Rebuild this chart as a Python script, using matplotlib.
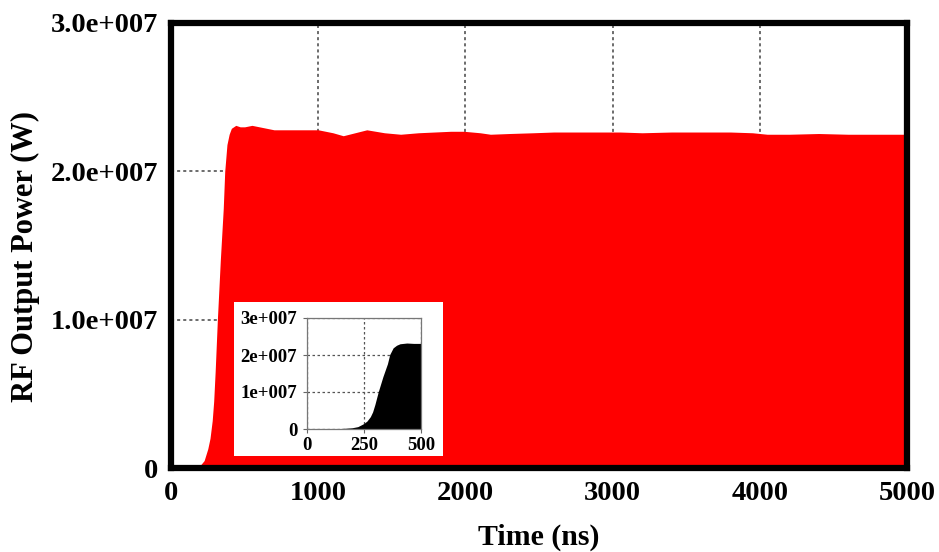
import matplotlib
matplotlib.use('Agg')
import matplotlib.pyplot as plt
from matplotlib.patches import Rectangle
import numpy as np

# envelope of the RF output power (time in ns, power in W)
time_ns = [0, 150, 180, 200, 225, 250, 265, 280, 290, 300, 315, 335, 355, 365,
           380, 395, 410, 440, 470, 500, 550, 600, 700, 800, 900, 1000, 1100,
           1170, 1250, 1330, 1450, 1560, 1680, 1790, 1900, 1990, 2100, 2170,
           2300, 2460, 2600, 2740, 2900, 3050, 3200, 3400, 3600, 3800, 3950,
           4050, 4200, 4400, 4600, 4800, 4990]
power_1e7 = [0.0, 0.0, 0.01, 0.02, 0.05, 0.13, 0.20, 0.32, 0.45, 0.65, 1.00,
             1.40, 1.75, 2.00, 2.18, 2.25, 2.29, 2.31, 2.30, 2.30, 2.31, 2.30,
             2.28, 2.28, 2.28, 2.28, 2.26, 2.24, 2.26, 2.28, 2.26, 2.25, 2.26,
             2.265, 2.27, 2.27, 2.26, 2.25, 2.255, 2.26, 2.265, 2.265, 2.265,
             2.265, 2.26, 2.265, 2.265, 2.265, 2.26, 2.25, 2.25, 2.255, 2.25,
             2.25, 2.25]

main_xticks = [0, 1000, 2000, 3000, 4000, 5000]
main_yticks = [0, 1e7, 2e7, 3e7]
main_ylabels = ['0', '1.0e+007', '2.0e+007', '3.0e+007']
inset_xticks = [0, 250, 500]
inset_yticks = [0, 1e7, 2e7, 3e7]
inset_ylabels = ['0', '1e+007', '2e+007', '3e+007']

t = np.array(time_ns)
p = np.array(power_1e7) * 1e7

plt.rcParams['font.family'] = ['Liberation Serif', 'DejaVu Serif']
plt.rcParams['font.weight'] = 'bold'

W, H = 939, 552
fig = plt.figure(figsize=(W / 100, H / 100), dpi=100)

ax = fig.add_axes([171 / W, 1 - 468 / H, 736 / W, 445 / H])
ax.fill_between(t, 0, p, color='#ff0000', lw=0, zorder=2)
ax.set_xlim(0, 5000)
ax.set_ylim(0, 3e7)
ax.set_xticks(main_xticks)
ax.set_xticklabels([str(v) for v in main_xticks])
ax.set_yticks(main_yticks)
ax.set_yticklabels(main_ylabels)
ax.tick_params(length=0, labelsize=20.5)
ax.tick_params(axis='y', pad=9)
ax.tick_params(axis='x', pad=9)
ax.grid(True, color='#444444', linestyle=(0, (2, 2)), linewidth=1.1, zorder=1)
ax.set_axisbelow(True)
for s in ax.spines.values():
    s.set_linewidth(4.5)
    s.set_color('black')
    s.set_zorder(5)

fig.text(539 / W, 1 - 537 / H, 'Time (ns)', ha='center', va='center',
         fontsize=21.5, fontweight='bold')
fig.text(25 / W, 1 - 257 / H, 'RF Output Power (W)', ha='center', va='center',
         rotation=90, fontsize=22, fontweight='bold')

# white panel behind the inset
fig.add_artist(Rectangle((234 / W, 1 - 456 / H), 209 / W, 154 / H,
                         transform=fig.transFigure, facecolor='white',
                         edgecolor='none', zorder=1))

ins = fig.add_axes([307 / W, 1 - 429 / H, 114 / W, 111 / H], zorder=2)
ins.fill_between(t, 0, p, color='black', lw=0, zorder=2)
ins.set_xlim(0, 500)
ins.set_ylim(0, 3e7)
ins.set_xticks(inset_xticks)
ins.set_xticklabels([str(v) for v in inset_xticks])
ins.set_yticks(inset_yticks)
ins.set_yticklabels(inset_ylabels)
ins.tick_params(length=3, width=0.8, color='#666666', labelsize=13.5, pad=3)
ins.tick_params(axis='y', pad=4)
ins.grid(True, color='#555555', linestyle=(0, (2, 2)), linewidth=0.9, zorder=1)
ins.set_axisbelow(True)
for s in ins.spines.values():
    s.set_linewidth(0.9)
    s.set_color('#777777')

fig.savefig('out.png', dpi=100)
